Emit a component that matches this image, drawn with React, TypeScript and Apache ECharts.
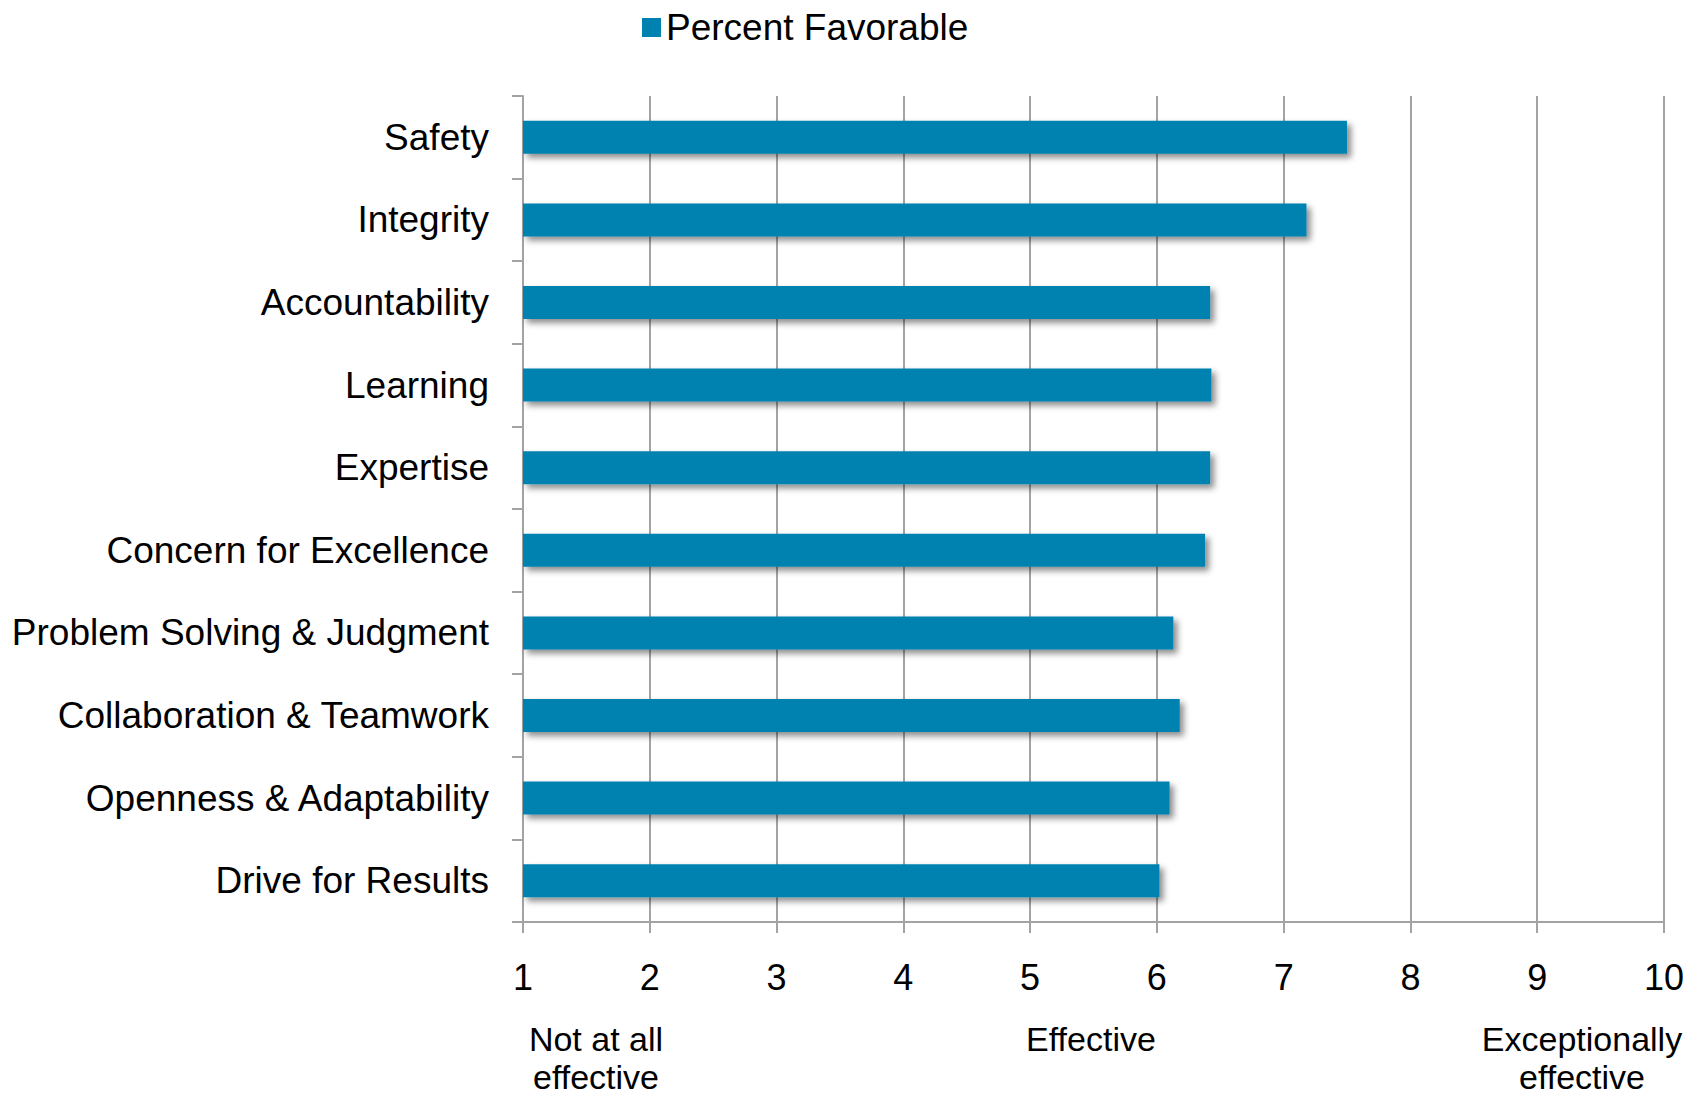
import React, { useEffect, useRef } from "react";
import * as echarts from "echarts";

const categories = [
  "Safety",
  "Integrity",
  "Accountability",
  "Learning",
  "Expertise",
  "Concern for Excellence",
  "Problem Solving & Judgment",
  "Collaboration & Teamwork",
  "Openness & Adaptability",
  "Drive for Results",
];
const percentFavorable = [7.5, 7.18, 6.42, 6.43, 6.42, 6.38, 6.13, 6.18, 6.1, 6.02];
const seriesName = "Percent Favorable";
const xMin = 1;
const xMax = 10;
const scaleNotes = [
  ["Not at all", "effective"],
  ["Effective"],
  ["Exceptionally", "effective"],
];

const FONT = '"Liberation Sans", Arial, Helvetica, sans-serif';
const GRAY = "#A3A3A3";

export default function App() {
  const ref = useRef<HTMLDivElement>(null);
  useEffect(() => {
    if (!ref.current) return;
    const chart = echarts.init(ref.current, null, { renderer: "svg" });
    const lineYs = [1039, 1077];
    const notes: any[] = [];
    const noteXs = [596, 1091, 1582];
    scaleNotes.forEach((lines, i) => {
      lines.forEach((text, j) => {
        notes.push({
          type: "text",
          x: noteXs[i],
          y: lineYs[j],
          style: {
            text,
            fill: "#000",
            font: `34px ${FONT}`,
            align: "center",
            verticalAlign: "middle",
          },
        });
      });
    });
    chart.setOption({
      animation: false,
      backgroundColor: "#fff",
      textStyle: { fontFamily: FONT },
      legend: {
        left: 637,
        top: 4,
        icon: "rect",
        itemWidth: 19,
        itemHeight: 19,
        itemGap: 10,
        textStyle: { fontSize: 37, color: "#000", fontFamily: FONT },
        data: [seriesName],
      },
      grid: { left: 523, right: 40, top: 96, bottom: 174, containLabel: false },
      xAxis: {
        type: "value",
        min: xMin,
        max: xMax,
        interval: 1,
        axisLine: { show: true, lineStyle: { color: GRAY, width: 2 } },
        axisTick: { show: true, length: 11, lineStyle: { color: GRAY, width: 2 } },
        axisLabel: { color: "#000", fontSize: 36, margin: 37, fontFamily: FONT },
        splitLine: { show: true, lineStyle: { color: GRAY, width: 2 } },
      },
      yAxis: {
        type: "category",
        inverse: true,
        data: categories,
        axisLine: { show: true, lineStyle: { color: GRAY, width: 2 } },
        axisTick: { show: true, length: 11, lineStyle: { color: GRAY, width: 2 } },
        axisLabel: { color: "#000", fontSize: 37, margin: 34, fontFamily: FONT, padding: [4, 0, 0, 0] },
        splitLine: { show: false },
      },
      series: [
        {
          name: seriesName,
          type: "bar",
          data: percentFavorable,
          barCategoryGap: "60%",
          itemStyle: {
            color: "#0082B0",
            shadowColor: "rgba(0,0,0,0.45)",
            shadowBlur: 6,
            shadowOffsetX: 4,
            shadowOffsetY: 4,
          },
        },
      ],
      graphic: notes,
    });
    return () => chart.dispose();
  }, []);
  return (
    <div
      ref={ref}
      style={{ position: "fixed", left: 0, top: 0, width: 1704, height: 1096, background: "#fff" }}
    />
  );
}
